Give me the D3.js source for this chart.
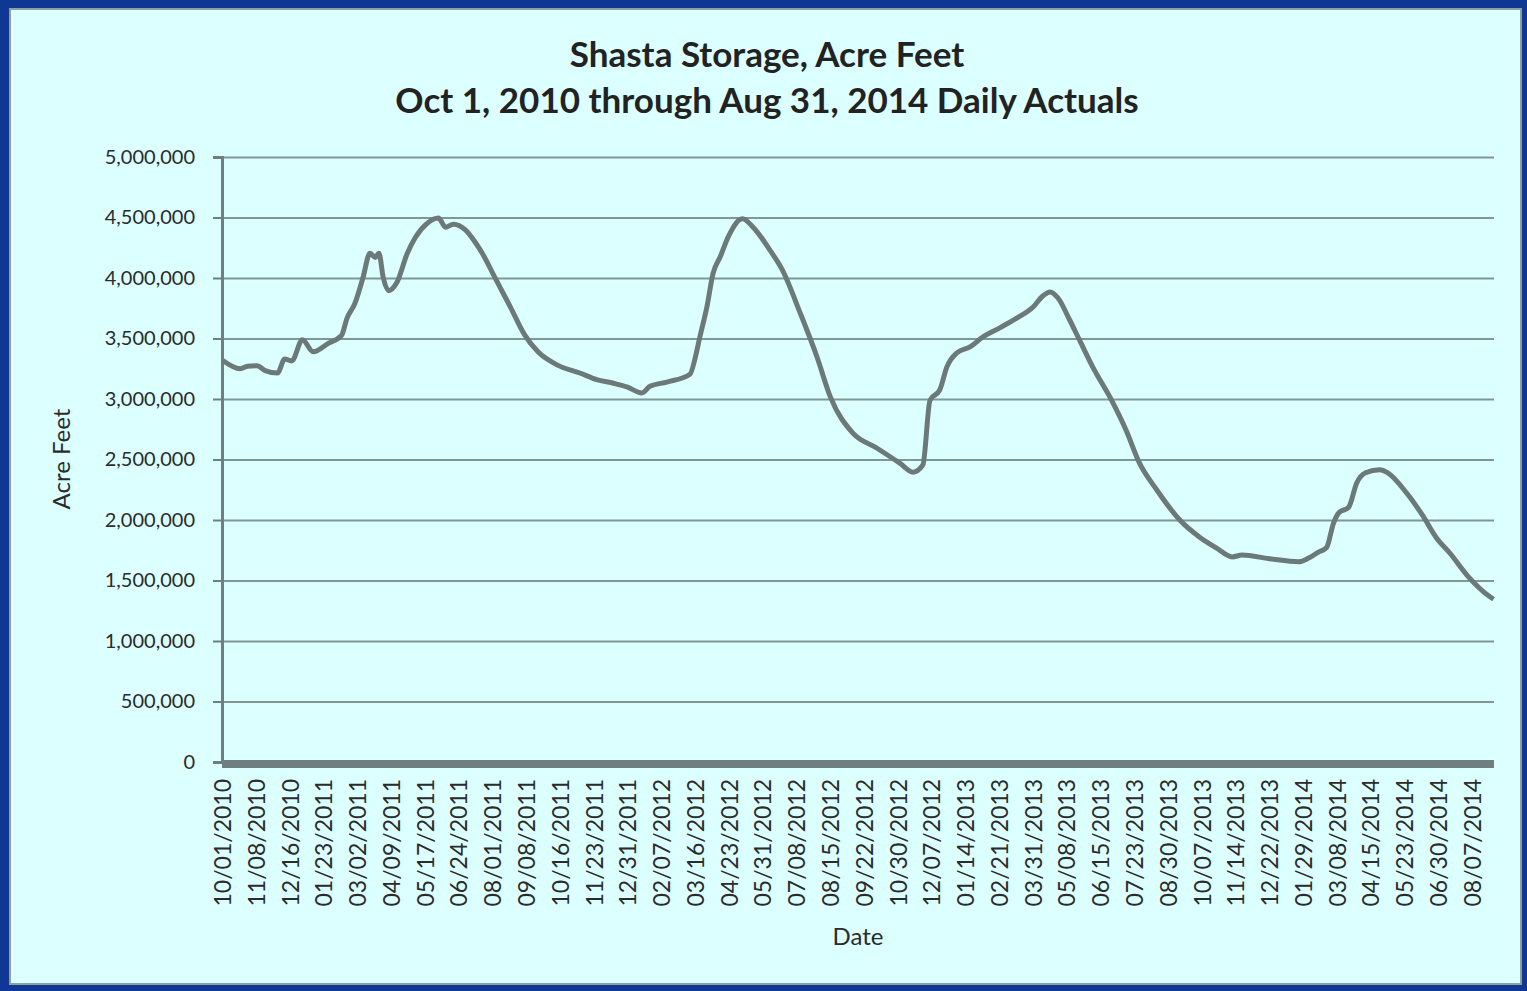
<!DOCTYPE html>
<html lang="en">
<head>
    <meta charset="UTF-8">
    <title>Shasta Storage</title>
    <script src="https://d3js.org/d3.v7.min.js"></script>
    <style>
        body { margin: 0; background: #0f3894; }
        svg { display: block; }
        .grid line { stroke: #7f9797; stroke-width: 2; }
        .ytick text, .xtick text { font-family: Lato, "Open Sans", sans-serif; fill: #2b2b2b; }
    </style>
</head>
<body>
    <svg width="1527" height="991"></svg>
    <script>
        // daily actuals at turning points
        const dates = [
            "10/01/2010", "10/21/2010", "10/29/2010", "11/09/2010", "11/18/2010", "12/02/2010",
            "12/10/2010", "12/18/2010", "12/30/2010", "01/11/2011", "01/28/2011", "02/12/2011",
            "02/18/2011", "02/27/2011", "03/08/2011", "03/16/2011", "03/22/2011", "03/26/2011",
            "03/31/2011", "04/06/2011", "04/15/2011", "04/27/2011", "05/06/2011", "05/19/2011",
            "06/01/2011", "06/09/2011", "06/18/2011", "07/01/2011", "07/12/2011", "07/23/2011",
            "08/02/2011", "08/21/2011", "09/06/2011", "09/21/2011", "10/13/2011", "11/07/2011",
            "11/26/2011", "12/15/2011", "12/30/2011", "01/16/2012", "01/25/2012", "02/13/2012",
            "03/10/2012", "03/16/2012", "03/21/2012", "03/29/2012", "04/05/2012", "04/13/2012",
            "04/22/2012", "05/08/2012", "05/20/2012", "06/08/2012", "06/22/2012", "07/12/2012",
            "07/31/2012", "08/15/2012", "09/09/2012", "10/06/2012", "11/01/2012", "11/16/2012",
            "11/27/2012", "12/05/2012", "12/16/2012", "12/24/2012", "01/04/2013", "01/19/2013",
            "02/02/2013", "02/22/2013", "03/13/2013", "03/31/2013", "04/10/2013", "04/19/2013",
            "04/28/2013", "05/11/2013", "05/22/2013", "06/06/2013", "06/28/2013", "07/14/2013",
            "07/28/2013", "08/17/2013", "09/12/2013", "10/04/2013", "10/23/2013", "11/10/2013",
            "11/21/2013", "12/22/2013", "01/24/2014", "02/04/2014", "02/15/2014", "02/24/2014",
            "03/04/2014", "03/10/2014", "03/21/2014", "03/30/2014", "04/09/2014", "04/25/2014",
            "05/04/2014", "05/25/2014", "06/12/2014", "06/28/2014", "07/13/2014", "08/01/2014",
            "08/27/2014", "08/31/2014"
        ];
        const storage = [
            3320000, 3250000, 3270000, 3275000, 3235000, 3215000,
            3330000, 3315000, 3490000, 3390000, 3460000, 3525000,
            3665000, 3790000, 4000000, 4205000, 4170000, 4205000,
            4000000, 3895000, 3960000, 4205000, 4335000, 4450000,
            4495000, 4420000, 4445000, 4400000, 4300000, 4170000,
            4025000, 3760000, 3530000, 3390000, 3280000, 3215000,
            3160000, 3130000, 3100000, 3050000, 3105000, 3140000,
            3205000, 3345000, 3510000, 3760000, 4040000, 4175000,
            4340000, 4490000, 4420000, 4230000, 4065000, 3710000,
            3345000, 3015000, 2720000, 2595000, 2470000, 2395000,
            2455000, 2990000, 3075000, 3265000, 3380000, 3430000,
            3510000, 3590000, 3670000, 3760000, 3845000, 3885000,
            3835000, 3655000, 3490000, 3265000, 2980000, 2735000,
            2480000, 2250000, 2000000, 1860000, 1770000, 1695000,
            1710000, 1680000, 1655000, 1685000, 1735000, 1770000,
            1975000, 2060000, 2105000, 2305000, 2390000, 2415000,
            2390000, 2225000, 2040000, 1850000, 1725000, 1545000,
            1365000, 1345000
        ];
        const tickLabels = [
            "10/01/2010", "11/08/2010", "12/16/2010", "01/23/2011", "03/02/2011", "04/09/2011",
            "05/17/2011", "06/24/2011", "08/01/2011", "09/08/2011", "10/16/2011", "11/23/2011",
            "12/31/2011", "02/07/2012", "03/16/2012", "04/23/2012", "05/31/2012", "07/08/2012",
            "08/15/2012", "09/22/2012", "10/30/2012", "12/07/2012", "01/14/2013", "02/21/2013",
            "03/31/2013", "05/08/2013", "06/15/2013", "07/23/2013", "08/30/2013", "10/07/2013",
            "11/14/2013", "12/22/2013", "01/29/2014", "03/08/2014", "04/15/2014", "05/23/2014",
            "06/30/2014", "08/07/2014"
        ];
        const yTicks = [0, 500000, 1000000, 1500000, 2000000, 2500000, 3000000, 3500000, 4000000, 4500000, 5000000];

        const parse = d3.timeParse("%m/%d/%Y");
        const data = dates.map((d, i) => ({ date: parse(d), value: storage[i] }));

        const svg = d3.select("svg");
        const font = 'Lato, "Open Sans", sans-serif';

        // light panel
        svg.append("rect")
            .attr("x", 10).attr("y", 9)
            .attr("width", 1511).attr("height", 975)
            .attr("fill", "#dcffff")
            .attr("stroke", "#8da0a0").attr("stroke-width", 2);

        const plotLeft = 222, plotRight = 1494, plotTop = 157, plotBottom = 762;

        // each day is a category slot, so pad half a day each side
        const start = d3.timeHour.offset(parse(dates[0]), -12);
        const end = d3.timeHour.offset(parse(dates[dates.length - 1]), 12);
        const x = d3.scaleTime().domain([start, end]).range([plotLeft, plotRight]);
        const y = d3.scaleLinear().domain([0, 5000000]).range([plotBottom, plotTop]);

        // horizontal gridlines
        svg.append("g")
            .attr("class", "grid")
            .attr("transform", `translate(${plotLeft}, 0)`)
            .call(d3.axisLeft(y).tickValues(yTicks).tickSize(-(plotRight - plotLeft)).tickFormat(""))
            .call(g => g.select(".domain").remove());

        // y axis
        svg.append("g")
            .attr("class", "ytick")
            .attr("transform", `translate(${plotLeft}, 0)`)
            .call(d3.axisLeft(y).tickValues(yTicks).tickSize(9).tickPadding(18).tickFormat(d3.format(",")))
            .call(g => g.select(".domain").attr("stroke", "#6f7f7f").attr("stroke-width", 3))
            .call(g => g.selectAll(".tick line").attr("stroke", "#6f7f7f").attr("stroke-width", 2))
            .call(g => g.selectAll("text").attr("font-size", 20).attr("font-family", font));

        // x axis
        svg.append("g")
            .attr("class", "xtick")
            .attr("transform", `translate(0, ${plotBottom})`)
            .call(d3.axisBottom(x).tickValues(tickLabels.map(parse)).tickSize(0).tickFormat(d3.timeFormat("%m/%d/%Y")))
            .call(g => g.select(".domain").remove())
            .call(g => g.selectAll("text")
                .attr("font-size", 23).attr("font-family", font)
                .attr("transform", "rotate(-90)")
                .attr("text-anchor", "end")
                .attr("x", -17).attr("y", 0).attr("dy", "0.35em"));

        // heavy baseline
        svg.append("line")
            .attr("x1", plotLeft).attr("x2", plotRight)
            .attr("y1", y(0) + 2).attr("y2", y(0) + 2)
            .attr("stroke", "#6f7f7f").attr("stroke-width", 8);

        // the series
        const line = d3.line()
            .x(d => x(d.date))
            .y(d => y(d.value))
            .curve(d3.curveMonotoneX);

        svg.append("path")
            .datum(data)
            .attr("fill", "none")
            .attr("stroke", "#6b7979")
            .attr("stroke-width", 5)
            .attr("stroke-linejoin", "round")
            .attr("d", line);

        // titles
        svg.append("text")
            .attr("x", 767).attr("y", 67)
            .attr("text-anchor", "middle")
            .attr("font-family", font).attr("font-weight", "bold").attr("font-size", 35)
            .attr("fill", "#222")
            .text("Shasta Storage, Acre Feet");

        svg.append("text")
            .attr("x", 767).attr("y", 113)
            .attr("text-anchor", "middle")
            .attr("font-family", font).attr("font-weight", "bold").attr("font-size", 35)
            .attr("fill", "#222")
            .text("Oct 1, 2010 through Aug 31, 2014 Daily Actuals");

        svg.append("text")
            .attr("transform", "translate(70, 459) rotate(-90)")
            .attr("text-anchor", "middle")
            .attr("font-family", font).attr("font-size", 24)
            .attr("fill", "#2b2b2b")
            .text("Acre Feet");

        svg.append("text")
            .attr("x", 858).attr("y", 945)
            .attr("text-anchor", "middle")
            .attr("font-family", font).attr("font-size", 24)
            .attr("fill", "#2b2b2b")
            .text("Date");
    </script>
</body>
</html>
